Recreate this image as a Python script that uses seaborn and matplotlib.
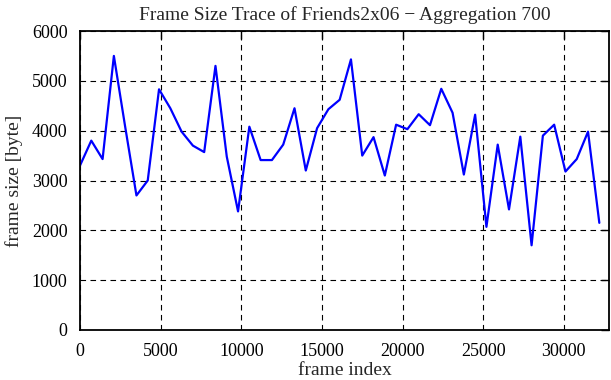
import numpy as np
import pandas as pd
import matplotlib
matplotlib.use("Agg")
import matplotlib.pyplot as plt
import seaborn as sns

# frame sizes, one point every 700 frames
frame_index = [0, 700, 1400, 2100, 2800, 3500, 4200, 4900, 5600, 6300,
               7000, 7700, 8400, 9100, 9800, 10500, 11200, 11900, 12600, 13300,
               14000, 14700, 15400, 16100, 16800, 17500, 18200, 18900, 19600, 20300,
               21000, 21700, 22400, 23100, 23800, 24500, 25200, 25900, 26600, 27300,
               28000, 28700, 29400, 30100, 30800, 31500, 32200]
frame_size = [3300, 3800, 3430, 5500, 4080, 2700, 3000, 4830, 4450, 3980,
              3700, 3570, 5300, 3480, 2380, 4080, 3410, 3410, 3720, 4450,
              3200, 4050, 4430, 4620, 5430, 3500, 3870, 3100, 4120, 4030,
              4330, 4110, 4840, 4360, 3120, 4320, 2070, 3720, 2420, 3880,
              1700, 3900, 4120, 3180, 3430, 3980, 2150]

df = pd.DataFrame({"frame index": frame_index, "frame size": frame_size})

sns.set_style("white")
plt.rcParams['font.family'] = ['Liberation Serif', 'DejaVu Serif']

fig = plt.figure(figsize=(6.11, 3.80), dpi=100)
ax = fig.add_axes([80 / 611, 1 - 330 / 380, 529 / 611, 299 / 380])

sns.lineplot(data=df, x="frame index", y="frame size", ax=ax,
             color="#0000ff", linewidth=1.6)

ax.set_xlim(0, 32800)
ax.set_ylim(0, 6000)
ax.set_xticks(np.arange(0, 30001, 5000))
ax.set_yticks(np.arange(0, 6001, 1000))

ax.grid(True, color="black", linestyle=(0, (5, 4)), linewidth=0.8)
for s in ax.spines.values():
    s.set_color("black")
    s.set_linewidth(1.3)
ax.tick_params(direction="in", length=6, width=1, top=True, right=True,
               labelsize=13, colors="black")
ax.tick_params(axis="x", pad=9)
ax.tick_params(axis="y", pad=9)

ax.set_title("Frame Size Trace of Friends2x06 \u2212 Aggregation 700",
             fontsize=14, pad=8)
ax.set_xlabel("frame index", fontsize=14, labelpad=2)
ax.set_ylabel("frame size [byte]", fontsize=14, labelpad=6)

fig.savefig("out.png", dpi=100, facecolor="white")
